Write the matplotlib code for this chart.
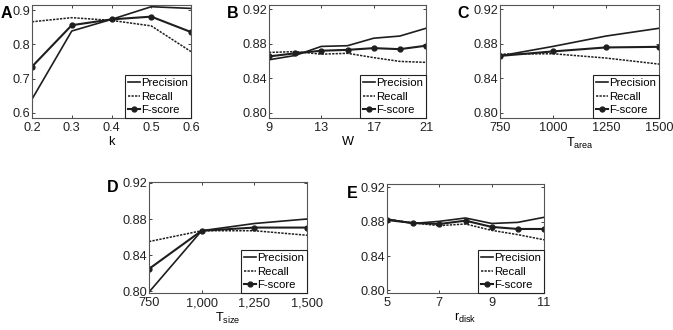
import matplotlib
matplotlib.use("Agg")
import matplotlib.pyplot as plt

plt.rcParams['font.family'] = ['Liberation Sans', 'DejaVu Sans']
plt.rcParams['mathtext.fontset'] = 'custom'
plt.rcParams['mathtext.rm'] = 'Liberation Sans'

# Panel A
k_vals = [0.2, 0.3, 0.4, 0.5, 0.6]
a_prec = [0.640, 0.839, 0.873, 0.910, 0.905]
a_rec = [0.866, 0.878, 0.870, 0.854, 0.779]
a_f = [0.735, 0.856, 0.873, 0.881, 0.836]

# Panel B
w_vals = [9, 11, 13, 15, 17, 19, 21]
b_prec = [0.8615, 0.8665, 0.877, 0.8778, 0.8865, 0.889, 0.898]
b_rec = [0.870, 0.871, 0.868, 0.869, 0.864, 0.8596, 0.8585]
b_f = [0.8654, 0.869, 0.872, 0.873, 0.875, 0.8738, 0.8778]

# Panel C
tarea_vals = [750, 1000, 1250, 1500]
c_prec = [0.866, 0.877, 0.889, 0.898]
c_rec = [0.868, 0.8685, 0.8635, 0.8565]
c_f = [0.866, 0.8712, 0.8758, 0.8765]

# Panel D
tsize_vals = [750, 1000, 1250, 1500]
d_prec = [0.799, 0.867, 0.875, 0.880]
d_rec = [0.855, 0.867, 0.867, 0.862]
d_f = [0.8247, 0.867, 0.8705, 0.8705]

# Panel E
r_vals = [5, 6, 7, 8, 9, 10, 11]
e_prec = [0.8832, 0.878, 0.8805, 0.8844, 0.878, 0.8793, 0.8852]
e_rec = [0.883, 0.8786, 0.8755, 0.8774, 0.870, 0.865, 0.859]
e_f = [0.882, 0.8786, 0.8774, 0.8813, 0.874, 0.8716, 0.8716]

W, H = 673, 330
fig = plt.figure(figsize=(W / 100, H / 100), dpi=100)

def make_ax(l, r, t, b):
    return fig.add_axes([l / W, (H - b) / H, (r - l) / W, (b - t) / H])

col = '#1e1e1e'

def panel(ax, x, p, rc, f, xlim, ylim, xticks, xticklabels, yticks, yticklabels, xlabel,
          letter, lx, ly):
    ax.plot(x, p, '-', color=col, lw=1.2, label='Precision')
    ax.plot(x, rc, linestyle=(0, (1.5, 0.8)), color=col, lw=1.1, label='Recall')
    ax.plot(x, f, '-', color=col, lw=1.5, marker='o', ms=3.5, label='F-score')
    ax.set_xlim(*xlim)
    ax.set_ylim(*ylim)
    ax.set_xticks(xticks)
    ax.set_xticklabels(xticklabels)
    ax.set_yticks(yticks)
    ax.set_yticklabels(yticklabels)
    ax.tick_params(direction='in', top=True, right=True, labelsize=9.2, length=2.5,
                   width=0.6, colors='#222222')
    ax.tick_params(axis='y', pad=1.5)
    ax.tick_params(axis='x', pad=3)
    for s in ax.spines.values():
        s.set_color('#555555')
        s.set_linewidth(0.8)
    ax.set_xlabel(xlabel, fontsize=9.2, labelpad=1)
    leg = ax.legend(loc='lower right', borderaxespad=0, fontsize=8.2, handlelength=1.0,
                    handletextpad=0.15, labelspacing=0.3, borderpad=0.25, fancybox=False,
                    framealpha=1)
    leg.get_frame().set_edgecolor('#222222')
    leg.get_frame().set_linewidth(0.8)
    fig.text(lx / W, 1 - ly / H, letter, fontsize=11.5, fontweight='bold',
             ha='center', va='center')

ax = make_ax(32, 191, 5, 118)
panel(ax, k_vals, a_prec, a_rec, a_f, (0.2, 0.6), (0.585, 0.915), k_vals,
      ['0.2', '0.3', '0.4', '0.5', '0.6'], [0.6, 0.7, 0.8, 0.9], ['0.6', '0.7', '0.8', '0.9'],
      'k', 'A', 6.5, 13.5)

yt = [0.80, 0.84, 0.88, 0.92]
ytl = ['0.80', '0.84', '0.88', '0.92']

ax = make_ax(269, 426, 5, 118)
panel(ax, w_vals, b_prec, b_rec, b_f, (9, 21), (0.794, 0.925), [9, 13, 17, 21],
      ['9', '13', '17', '21'], yt, ytl, 'W', 'B', 233, 13.5)

ax = make_ax(500, 659, 5, 118)
panel(ax, tarea_vals, c_prec, c_rec, c_f, (750, 1500), (0.794, 0.925), tarea_vals,
      ['750', '1000', '1250', '1500'], yt, ytl, r'T$_{\mathregular{area}}$', 'C', 463, 13.5)

ax = make_ax(149, 307, 182, 293)
panel(ax, tsize_vals, d_prec, d_rec, d_f, (750, 1500), (0.798, 0.921), tsize_vals,
      ['750', '1,000', '1,250', '1,500'], yt, ytl, r'T$_{\mathregular{size}}$', 'D', 113, 188)

ax = make_ax(387, 544, 184, 293)
panel(ax, r_vals, e_prec, e_rec, e_f, (5, 11), (0.797, 0.924), [5, 7, 9, 11],
      ['5', '7', '9', '11'], yt, ytl, r'r$_{\mathregular{disk}}$', 'E', 352, 194)

fig.savefig('out.png', dpi=100)
